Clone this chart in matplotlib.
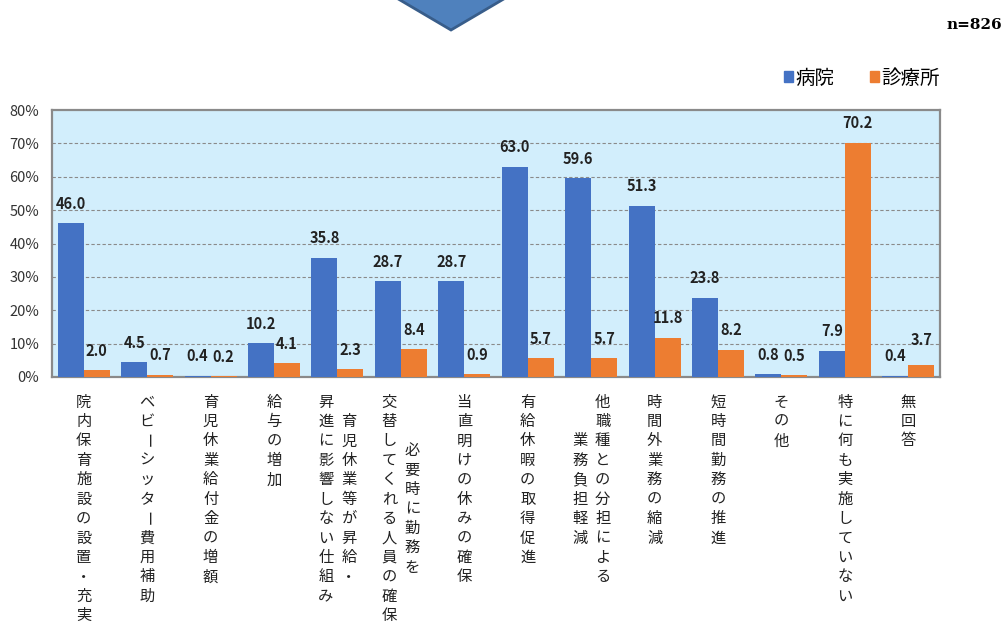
import matplotlib
matplotlib.use("Agg")
import matplotlib.pyplot as plt
import matplotlib.transforms as mtransforms
from matplotlib.patches import Polygon, Patch
import numpy as np

plt.rcParams['font.family'] = ['Noto Sans CJK JP', 'DejaVu Sans']

# data
categories = [
    ["院内保育施設の設置・充実"],
    ["ベビーシッター費用補助"],
    ["育児休業給付金の増額"],
    ["給与の増加"],
    ["育児休業等が昇給・", "昇進に影響しない仕組み"],
    ["必要時に勤務を", "交替してくれる人員の確保"],
    ["当直明けの休みの確保"],
    ["有給休暇の取得促進"],
    ["他職種との分担による", "業務負担軽減"],
    ["時間外業務の縮減"],
    ["短時間勤務の推進"],
    ["その他"],
    ["特に何も実施していない"],
    ["無回答"],
]
hospital = [46.0, 4.5, 0.4, 10.2, 35.8, 28.7, 28.7, 63.0, 59.6, 51.3, 23.8, 0.8, 7.9, 0.4]
clinic = [2.0, 0.7, 0.2, 4.1, 2.3, 8.4, 0.9, 5.7, 5.7, 11.8, 8.2, 0.5, 70.2, 3.7]
series_names = ["病院", "診療所"]
yticks = [0, 10, 20, 30, 40, 50, 60, 70, 80]

blue = '#4472C4'
orange = '#ED7D31'

W, H = 1005, 632
fig = plt.figure(figsize=(W / 100, H / 100), dpi=100)
ax = fig.add_axes([52 / W, 1 - 377 / H, 888 / W, 267 / H])
ax.set_facecolor('#D2EEFC')

x = np.arange(len(categories))
w = 0.41
ax.bar(x - w / 2, hospital, w, color=blue, zorder=3)
ax.bar(x + w / 2, clinic, w, color=orange, zorder=3)

ax.set_xlim(-0.5, len(categories) - 0.5)
ax.set_ylim(0, 80)
ax.set_yticks(yticks)
ax.set_yticklabels([f"{v}%" for v in yticks], fontsize=10.5, color='#333333')
ax.set_xticks([])
ax.tick_params(axis='y', length=0, pad=9)
for y in yticks[1:-1]:
    ax.axhline(y, color='#8a8a8a', lw=0.8, ls=(0, (3, 2)), zorder=1)
for s in ax.spines.values():
    s.set_color('#8a8a8a')
    s.set_linewidth(1.6)

# data labels
for i in range(len(categories)):
    ax.annotate(f"{hospital[i]:.1f}", (x[i] - w / 2, hospital[i]), xytext=(0, 14),
                textcoords='offset points', ha='center', va='center',
                fontsize=10.5, fontweight='bold', color='#222222', zorder=5)
    dy = 18 if i == 13 else 14
    ax.annotate(f"{clinic[i]:.1f}", (x[i] + w / 2, clinic[i]), xytext=(0, dy),
                textcoords='offset points', ha='center', va='center',
                fontsize=10.5, fontweight='bold', color='#222222', zorder=5)

# vertical category labels
trans = mtransforms.blended_transform_factory(ax.transData, ax.transAxes)
pitch = 14.0
for i, cols in enumerate(categories):
    n = len(cols)
    longest = max(len(c) for c in cols)
    for j, col in enumerate(cols):
        dx = 0 if n == 1 else (8.3 if j == 0 else -8.3)
        start = 18 + (longest - len(col)) / 2 * pitch
        for k, ch in enumerate(col):
            rot = -90 if ch == 'ー' else 0
            ax.annotate(ch, (x[i], 0), xycoords=trans,
                        xytext=(dx, -(start + k * pitch)), textcoords='offset points',
                        ha='center', va='center', fontsize=11, rotation=rot,
                        color='#222222', annotation_clip=False)

# legend
handles = [Patch(color=blue), Patch(color=orange)]
fig.legend(handles, series_names, loc='center right', bbox_to_anchor=(940 / W, 1 - 78 / H),
           ncol=2, frameon=False, fontsize=14, handlelength=0.45, handleheight=0.45,
           handletextpad=0.15, columnspacing=1.8, borderpad=0, borderaxespad=0)

fig.text(1002 / W, 1 - 25 / H, "n=826", ha='right', va='center',
         family='DejaVu Serif', fontweight='bold', fontsize=11)

# arrow shape at top
pts = [(383, -10), (519, -10), (451, 30)]
arrow = Polygon([(px / W, 1 - py / H) for px, py in pts], closed=True,
                transform=fig.transFigure, facecolor='#4F81BD', edgecolor='#385D8A',
                linewidth=2, clip_on=False)
fig.patches.append(arrow)

fig.savefig("out.png", dpi=100)
